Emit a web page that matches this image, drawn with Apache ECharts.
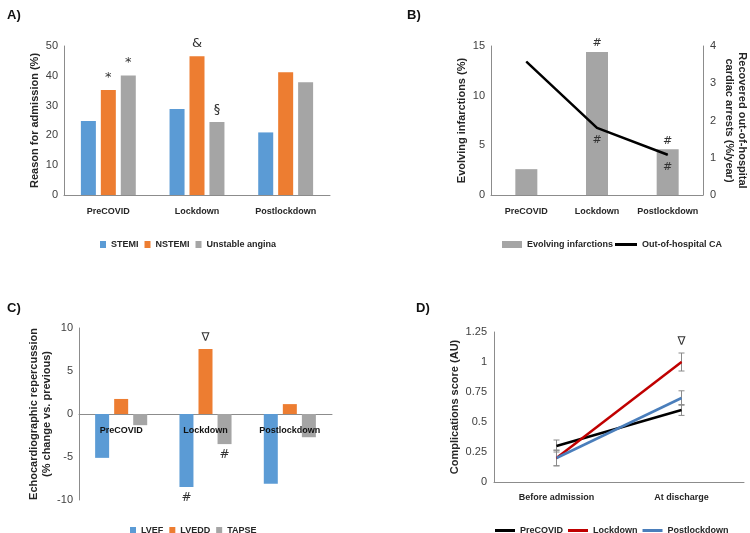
<!DOCTYPE html>
<html><head><meta charset="utf-8">
<script src="https://cdn.jsdelivr.net/npm/echarts@6/dist/echarts.min.js"></script>
<style>html,body{margin:0;padding:0;background:#fff}#c{width:750px;height:533px}</style>
</head><body><div id="c"></div>
<script>
// ---------- data ----------
const periods = ['PreCOVID', 'Lockdown', 'Postlockdown'];
// Panel A: reason for admission (%)
const stemi = [24.8, 28.9, 21.0];
const nstemi = [35.2, 46.6, 41.2];
const unstableAngina = [40.1, 24.5, 37.8];
const nstemiMarks = ['*', '&', ''];
const unstableMarks = ['*', '§', ''];
// Panel B
const evolvingInfarctions = [2.6, 14.4, 4.6];
const outOfHospitalCA = [3.58, 1.8, 1.08];
const evolvingMarks = ['', '#', '#'];
const ohcaMarks = ['', '#', '#'];
// Panel C: % change vs previous
const lvef = [-5.1, -8.5, -8.1];
const lvedd = [1.75, 7.55, 1.15];
const tapse = [-1.3, -3.5, -2.7];
const lvefMarks = ['', '#', ''];
const lveddMarks = ['', '∇', ''];
const tapseMarks = ['', '#', ''];
// Panel D: complications score
const timepoints = ['Before admission', 'At discharge'];
const preCovidScore = [0.3, 0.6];
const lockdownScore = [0.2, 1.0];
const postlockdownScore = [0.2, 0.7];
const preCovidErr = [0.05, 0.045];
const lockdownErr = [0.065, 0.075];
const postlockdownErr = [0.065, 0.06];
const lockdownMarks = ['', '∇'];
// y ticks
const yTicksA = {min: 0, max: 50, interval: 10};
const yTicksB = {min: 0, max: 15, interval: 5};
const yTicksB2 = {min: 0, max: 4, interval: 1};
const yTicksC = {min: -10, max: 10, interval: 5};
const yTicksD = {min: 0, max: 1.25, interval: 0.25};

// ---------- style ----------
const FONT = "'Liberation Sans',Arial,sans-serif";
const BLUE = '#5B9BD5', ORANGE = '#ED7D31', GRAY = '#A5A5A5';
const AXIS = '#8c8c8c';
const TXT = '#262626';
const CAT_FS = 9;

function catLabel(margin, color) {
  return {color: color || TXT, fontFamily: FONT, fontWeight: 'bold', fontSize: CAT_FS, margin: margin, interval: 0};
}
function catAxis(gi, data, extra) {
  return Object.assign({
    type: 'category', gridIndex: gi, data: data, position: 'bottom',
    axisLine: {lineStyle: {color: AXIS, width: 1}},
    axisTick: {show: false},
    axisLabel: catLabel(10)
  }, extra || {});
}
function valAxis(gi, t, name, gap, extra) {
  return Object.assign({
    type: 'value', gridIndex: gi, min: t.min, max: t.max, interval: t.interval,
    name: name, nameLocation: 'middle', nameGap: gap, nameRotate: 90,
    nameTextStyle: {color: TXT, fontFamily: FONT, fontWeight: 'bold', fontSize: 11, lineHeight: 13},
    axisLine: {show: true, lineStyle: {color: AXIS, width: 1}},
    axisTick: {show: false},
    splitLine: {show: false},
    axisLabel: {color: '#404040', fontFamily: FONT, fontSize: 11, margin: 6}
  }, extra || {});
}
function markLabel(arr, pos, dist, size) {
  return {show: true, position: pos, distance: dist, color: '#333', fontFamily: 'DejaVu Sans', fontSize: size || 11,
    formatter: p => arr[p.dataIndex]};
}
function errSeries(name, vals, errs) {
  return {
    type: 'custom', name: name, xAxisIndex: 4, yAxisIndex: 4, z: 1,
    data: vals.map((v, i) => [i, v, errs[i]]),
    encode: {x: 0, y: 1},
    renderItem: function (params, api) {
      const x = api.value(0), v = api.value(1), e = api.value(2);
      const t = api.coord([x, v + e]), b = api.coord([x, v - e]);
      const st = {stroke: '#8a8a8a', lineWidth: 1};
      return {type: 'group', children: [
        {type: 'line', shape: {x1: t[0], y1: t[1], x2: b[0], y2: b[1]}, style: st},
        {type: 'line', shape: {x1: t[0] - 3, y1: t[1], x2: t[0] + 3, y2: t[1]}, style: st},
        {type: 'line', shape: {x1: b[0] - 3, y1: b[1], x2: b[0] + 3, y2: b[1]}, style: st}
      ]};
    }
  };
}
const legendText = {color: TXT, fontFamily: FONT, fontWeight: 'bold', fontSize: 9};

const chart = echarts.init(document.getElementById('c'), null, {renderer: 'canvas'});
chart.setOption({
  animation: false,
  backgroundColor: '#fff',
  title: [
    {text: 'A)', left: 2, top: 4, textStyle: {fontFamily: FONT, fontWeight: 'bold', fontSize: 13, color: '#111'}},
    {text: 'B)', left: 402, top: 4, textStyle: {fontFamily: FONT, fontWeight: 'bold', fontSize: 13, color: '#111'}},
    {text: 'C)', left: 2, top: 297, textStyle: {fontFamily: FONT, fontWeight: 'bold', fontSize: 13, color: '#111'}},
    {text: 'D)', left: 411, top: 297, textStyle: {fontFamily: FONT, fontWeight: 'bold', fontSize: 13, color: '#111'}}
  ],
  legend: [
    {left: 95, top: 235, itemWidth: 6, itemHeight: 7, itemGap: 6, icon: 'rect', textStyle: legendText,
      data: ['STEMI', 'NSTEMI', 'Unstable angina']},
    {left: 497, top: 235, itemWidth: 20, itemHeight: 7, icon: 'rect', textStyle: legendText,
      data: ['Evolving infarctions']},
    {left: 610, top: 235, itemWidth: 22, itemHeight: 3, icon: 'rect', textStyle: legendText,
      data: ['Out-of-hospital CA']},
    {left: 125, top: 521, itemWidth: 6, itemHeight: 7, itemGap: 6, icon: 'rect', textStyle: legendText,
      data: ['LVEF', 'LVEDD', 'TAPSE']},
    {left: 490, top: 521, width: 260, itemWidth: 20, itemHeight: 3, itemGap: 5, icon: 'rect', textStyle: legendText,
      data: ['PreCOVID', 'Lockdown', 'Postlockdown']}
  ],
  grid: [
    {left: 64, top: 46, width: 266, height: 149},
    {left: 491, top: 46, width: 215, height: 149},
    {left: 79, top: 328, width: 253, height: 172},
    {left: 494, top: 332, width: 250, height: 150}
  ],
  xAxis: [
    catAxis(0, periods, {axisLabel: catLabel(12)}),
    catAxis(1, periods, {axisLabel: catLabel(12)}),
    // panel C: line on zero, labels carried by a companion axis placed at the zero line
    catAxis(2, periods, {axisLabel: {show: false}}),
    catAxis(3, timepoints, {axisLabel: catLabel(11)}),
    catAxis(3, timepoints, {show: false}),
    catAxis(2, periods, {z: 5, offset: -86, axisLine: {show: false, onZero: false}, axisLabel: catLabel(12, '#111')})
  ],
  yAxis: [
    valAxis(0, yTicksA, 'Reason for admission (%)', 22),
    valAxis(1, yTicksB, 'Evolving infarctions (%)', 21),
    valAxis(1, yTicksB2, 'Recovered out-of-hospital\ncardiac arrests (%/year)', 20,
      {position: 'right', nameRotate: -90, axisLabel: {color: '#404040', fontFamily: FONT, fontSize: 11, margin: 7}}),
    valAxis(2, yTicksC, 'Echocardiographic repercussion\n(% change vs. previous)', 24),
    valAxis(3, yTicksD, 'Complications score (AU)', 31,
      {axisLabel: {color: '#404040', fontFamily: FONT, fontSize: 11, margin: 7, formatter: v => String(v)}})
  ],
  series: [
    // Panel A
    {name: 'STEMI', type: 'bar', xAxisIndex: 0, yAxisIndex: 0, data: stemi, barWidth: 15, barGap: '33%', itemStyle: {color: BLUE}},
    {name: 'NSTEMI', type: 'bar', xAxisIndex: 0, yAxisIndex: 0, data: nstemi, barWidth: 15, barGap: '33%', itemStyle: {color: ORANGE},
      label: markLabel(nstemiMarks, 'top', 6, 13)},
    {name: 'Unstable angina', type: 'bar', xAxisIndex: 0, yAxisIndex: 0, data: unstableAngina, barWidth: 15, barGap: '33%', itemStyle: {color: GRAY},
      label: markLabel(unstableMarks, 'top', 6, 13)},
    // Panel B
    {name: 'Evolving infarctions', type: 'bar', xAxisIndex: 1, yAxisIndex: 1, data: evolvingInfarctions, barWidth: 22, itemStyle: {color: GRAY},
      label: markLabel(evolvingMarks, 'top', 3, 11)},
    {name: 'Out-of-hospital CA', type: 'line', xAxisIndex: 1, yAxisIndex: 2, data: outOfHospitalCA,
      showSymbol: true, symbol: 'circle', symbolSize: 1, itemStyle: {color: '#000'},
      lineStyle: {color: '#000', width: 2.5}, label: markLabel(ohcaMarks, 'bottom', 6, 11)},
    // Panel C
    {name: 'LVEF', type: 'bar', xAxisIndex: 2, yAxisIndex: 3, data: lvef, barWidth: 14, barGap: '36%', itemStyle: {color: BLUE},
      label: markLabel(lvefMarks, 'bottom', 5, 12)},
    {name: 'LVEDD', type: 'bar', xAxisIndex: 2, yAxisIndex: 3, data: lvedd, barWidth: 14, barGap: '36%', itemStyle: {color: ORANGE},
      label: markLabel(lveddMarks, 'top', 5, 12)},
    {name: 'TAPSE', type: 'bar', xAxisIndex: 2, yAxisIndex: 3, data: tapse, barWidth: 14, barGap: '36%', itemStyle: {color: GRAY},
      label: markLabel(tapseMarks, 'bottom', 5, 12)},
    // Panel D
    errSeries('PreCOVID err', preCovidScore, preCovidErr),
    errSeries('Lockdown err', lockdownScore, lockdownErr),
    errSeries('Postlockdown err', postlockdownScore, postlockdownErr),
    {name: 'PreCOVID', type: 'line', xAxisIndex: 3, yAxisIndex: 4, data: preCovidScore, z: 3,
      showSymbol: false, itemStyle: {color: '#000'}, lineStyle: {color: '#000', width: 2.5}},
    {name: 'Lockdown', type: 'line', xAxisIndex: 3, yAxisIndex: 4, data: lockdownScore, z: 3,
      showSymbol: true, symbol: 'circle', symbolSize: 1, itemStyle: {color: '#C00000'}, lineStyle: {color: '#C00000', width: 2.5},
      label: markLabel(lockdownMarks, 'top', 14, 12)},
    {name: 'Postlockdown', type: 'line', xAxisIndex: 3, yAxisIndex: 4, data: postlockdownScore, z: 3,
      showSymbol: false, itemStyle: {color: '#4A7EBB'}, lineStyle: {color: '#4A7EBB', width: 2.5}}
  ]
});
</script>
</body></html>
